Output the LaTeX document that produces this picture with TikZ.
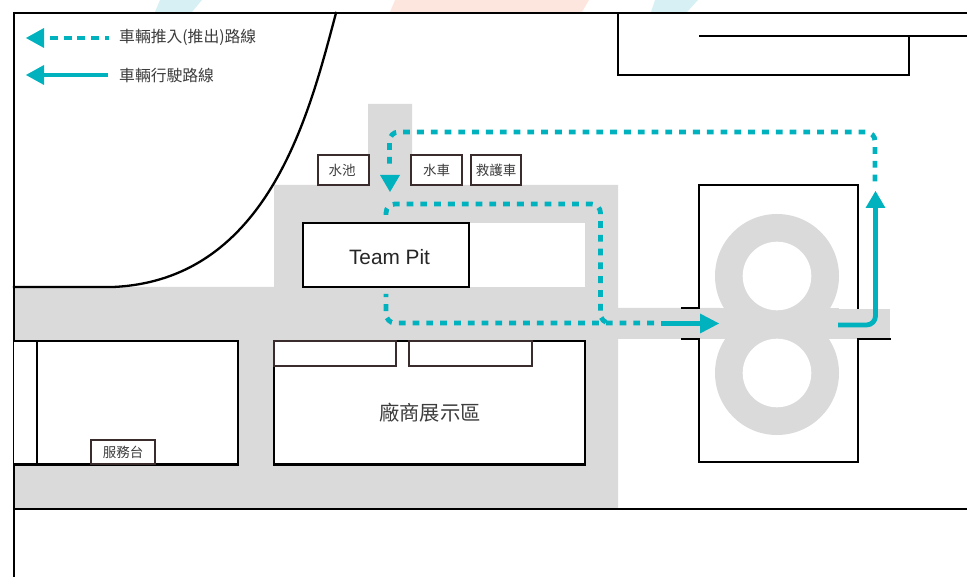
\documentclass[tikz,border=0pt]{standalone}
\usepackage{fontspec}
\setmainfont{Liberation Sans}
\newfontfamily\cjk{Noto Sans CJK TC}
\definecolor{teal}{HTML}{00B2BE}
\definecolor{road}{HTML}{DADADA}
\definecolor{ink}{HTML}{3A2C2C}
\definecolor{txt}{HTML}{3C3C3C}
\definecolor{peach}{HTML}{FDE6DE}
\definecolor{pale}{HTML}{D6F0F4}
\tikzset{
  wall/.style={draw=black,line width=2.3pt,line cap=rect},
  thinbox/.style={draw=ink,line width=2pt,fill=white,inner sep=0pt,text=txt,font=\cjk\fontsize{13.5}{14}\selectfont},
  booth/.style={draw=ink,line width=2pt,fill=white,minimum height=25pt,inner sep=0pt},
  legendtxt/.style={anchor=west,inner sep=0pt,text=txt,font=\cjk\fontsize{15.8}{16}\selectfont},
  dotroute/.style={draw=teal,line width=4.8pt,dash pattern=on 6.8pt off 7pt,rounded corners=9pt},
  solidroute/.style={draw=teal,line width=4.8pt,rounded corners=9pt},
  head/.style={fill=teal,draw=none}
}
\begin{document}
\begin{tikzpicture}[x=1pt,y=-1pt]
\useasboundingbox (0,0) rectangle (967,577);
% faint shapes above the frame
\fill[peach] (390,12) -- (395,0) -- (589,0) -- (582,12) -- cycle;
\fill[pale] (651,12) -- (655,0) -- (698,0) -- (687,12) -- cycle;
\fill[pale] (155,12) -- (160,0) -- (202,0) -- (192,12) -- cycle;
% roads
\fill[road] (368,104) -- (412,104) -- (412,185) -- (618,185) -- (618,308) -- (720,308) -- (720,339) -- (618,339) -- (618,508) -- (14,508) -- (14,287) -- (274,287) -- (274,185) -- (368,185) -- cycle;
\fill[white] (469,223) rectangle (585,287);
\fill[road] (830,309) rectangle (890,339);
% figure of eight track
\fill[road] (777,276) circle[radius=62];
\fill[road] (777,373) circle[radius=62];
\fill[road] (715,308) rectangle (839,339);
\fill[white] (777,276) circle[radius=34.3];
\fill[white] (777,373) circle[radius=34.3];
% outer walls
\draw[wall] (14,577) -- (14,13) -- (967,13);
\draw[wall] (14,509) -- (967,509);
\draw[wall] (336,13) .. controls (310,110) and (270,280) .. (113,287) -- (14,287);
\draw[wall] (618,13) -- (618,75) -- (909,75) -- (909,36);
\draw[wall] (700,36) -- (967,36);
% track building
\draw[wall] (682,308) -- (699,308) -- (699,185) -- (858,185) -- (858,308);
\draw[wall] (682,339) -- (699,339) -- (699,462) -- (858,462) -- (858,339) -- (890,339);
% buildings
\draw[wall,fill=white] (14,341) -- (238,341) -- (238,464.5) -- (14,464.5);
\draw[wall] (37,341) -- (37,464.5);
\draw[wall,fill=white] (274,341) rectangle (585,464.5);
\node[booth,minimum width=122pt] (boothA) at (335,353.5) {};
\node[booth,minimum width=123pt] (boothB) at (470.5,353.5) {};
\node[inner sep=0pt,text=txt,font=\cjk\fontsize{20.3}{22}\selectfont] (vendor) at (430,413) {廠商展示區};
\node[thinbox,minimum width=64pt,minimum height=24pt] (desk) at (123,452) {服務台};
\node[thinbox,minimum width=51pt,minimum height=30pt] (pool) at (343.5,170) {\hspace{-3pt}水池};
\node[thinbox,minimum width=51pt,minimum height=30pt] (water) at (436.5,170) {水車};
\node[thinbox,minimum width=50pt,minimum height=30pt] (ambulance) at (496,170) {救護車};
\node[draw=black,line width=2.3pt,fill=white,minimum width=166pt,minimum height=64pt,inner sep=0pt] (pit) at (386,255) {};
\node[inner sep=0pt,text=black!85,font=\fontsize{20.8}{22}\selectfont] (pitlabel) at (389.5,257) {Team Pit};
% routes
\coordinate (r1a) at (875,181.5);
\coordinate (r1b) at (875,132);
\coordinate (r1c) at (389.5,132);
\coordinate (r1d) at (389.5,166);
\draw[dotroute] (r1a) -- (r1b) -- (r1c) -- (r1d);
\fill[head] (380,175) -- (400,175) -- (390,192) -- cycle;
\coordinate (r2a) at (386,215);
\coordinate (r2b) at (386,204);
\coordinate (r2c) at (600.5,204);
\coordinate (r2d) at (600.5,323);
\coordinate (r2e) at (612,323);
\coordinate (r2f) at (654,323);
\coordinate (r2g) at (386,323);
\coordinate (r2h) at (386,294);
\draw[dotroute] (r2a) -- (r2b) -- (r2c) -- (r2d) -- (r2e);
\draw[dotroute] (r2f) -- (r2g) -- (r2h);
\coordinate (r3a) at (661,323.5);
\coordinate (r3b) at (702,323.5);
\draw[solidroute] (r3a) -- (r3b);
\fill[head] (700,313.5) -- (719,323.5) -- (700,333.5) -- cycle;
\coordinate (r4a) at (838,325);
\coordinate (r4b) at (875.5,325);
\coordinate (r4c) at (875.5,207);
\draw[solidroute] (r4a) -- (r4b) -- (r4c);
\fill[head] (865.5,208) -- (875.5,191) -- (885.5,208) -- cycle;
% legend
\fill[head] (26,38) -- (44,28) -- (44,48) -- cycle;
\coordinate (l1a) at (109,38);
\coordinate (l1b) at (50,38);
\draw[draw=teal,line width=4.8pt,dash pattern=on 8pt off 5.7pt] (l1b) -- (l1a);
\fill[head] (26,75) -- (44,65) -- (44,85) -- cycle;
\coordinate (l2a) at (108,75);
\coordinate (l2b) at (43,75);
\draw[draw=teal,line width=4.8pt] (l2b) -- (l2a);
\node[legendtxt] (leg1) at (119,37) {車輛推入(推出)路線};
\node[legendtxt] (leg2) at (119,76) {車輛行駛路線};
\end{tikzpicture}
\end{document}
